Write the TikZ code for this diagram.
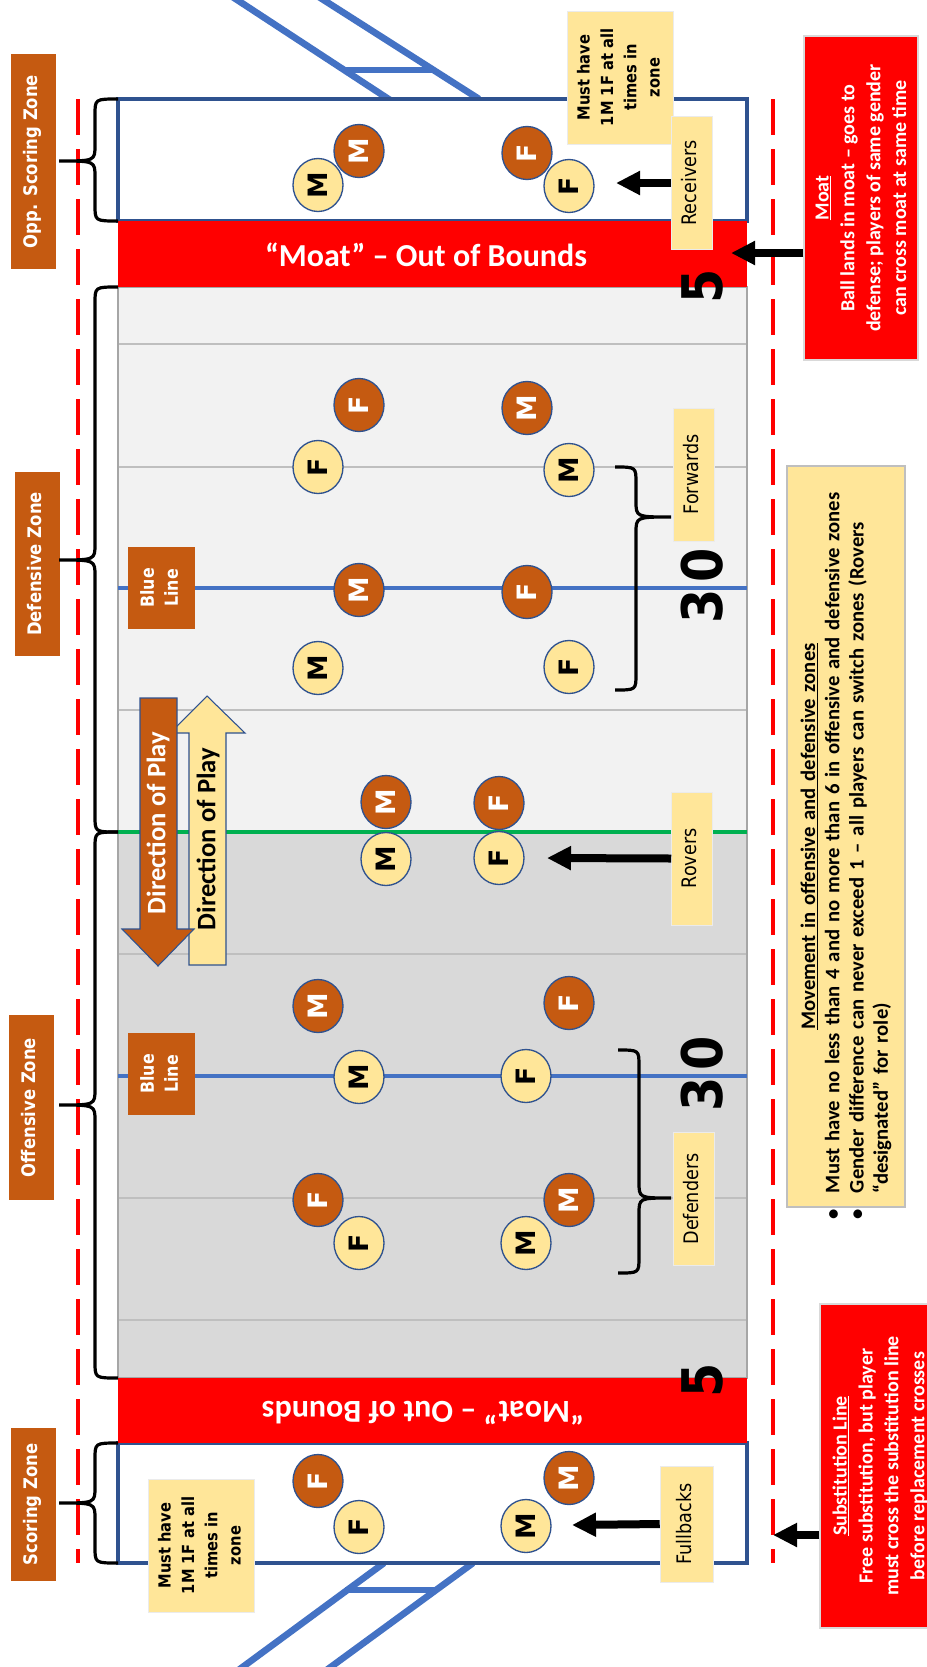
\documentclass[tikz,border=0pt]{standalone}
\usepackage{fontspec}
\usepackage{graphicx}
\setmainfont{Carlito}
\newfontfamily\vfont{DejaVu Sans}
\usetikzlibrary{arrows.meta,shapes.geometric}

\definecolor{fieldlight}{HTML}{F2F2F2}
\definecolor{fielddark}{HTML}{D9D9D9}
\definecolor{gridgrey}{HTML}{BFBFBF}
\definecolor{lineblue}{HTML}{4472C4}
\definecolor{edgeblue}{HTML}{2F528F}
\definecolor{linegreen}{HTML}{00B050}
\definecolor{moatred}{HTML}{FF0000}
\definecolor{rust}{HTML}{C55A11}
\definecolor{pale}{HTML}{FFE699}

\newdimen\pxu
\pxu=0.75pt

% narrow (condensed) text block
\newcommand{\nar}[1]{\scalebox{0.88}[1]{\begin{tabular}{@{}c@{}}#1\end{tabular}}}

% curly brace: end x, body x, tip x, y1, y tip, y2
\newcommand{\zonebrace}[6]{%
  \draw[bracket] (#1,#4) .. controls (#2,#4) .. (#2,{#4+16}) -- (#2,{#5-16})
    .. controls (#2,#5) .. (#3,#5) .. controls (#2,#5) .. (#2,{#5+16})
    -- (#2,{#6-16}) .. controls (#2,#6) .. (#1,#6);}

\begin{document}
\begin{tikzpicture}[x=0.75pt, y=-0.75pt,
    goalpost/.style={draw=lineblue, line width=5pt},
    sideline/.style={draw=moatred, line width=3pt, dash pattern=on 27pt off 10.5pt},
    gridline/.style={draw=gridgrey, line width=1.1pt},
    zoneedge/.style={draw=edgeblue, line width=2.3pt},
    bracket/.style={draw=black, line width=2.4pt},
    bigarrow/.style={line width=6pt, -{Triangle[length=18pt,width=17pt]}},
    zonelabel/.style={fill=rust, text=white, rotate=90, inner sep=0pt, minimum height=45\pxu,
      font=\vfont\bfseries\fontsize{14}{16}\selectfont},
    bluelabel/.style={fill=rust, text=white, rotate=90, inner sep=0pt, minimum width=82\pxu,
      minimum height=67\pxu, font=\vfont\bfseries\fontsize{13.5}{18}\selectfont},
    role/.style={fill=pale, draw=black!8, rotate=90, inner sep=0pt, minimum width=133\pxu,
      minimum height=41\pxu, font=\vfont\fontsize{15}{18}\selectfont},
    mustnote/.style={fill=pale, draw=black!8, rotate=90, inner sep=0pt, minimum width=133\pxu,
      minimum height=106\pxu, font=\vfont\bfseries\fontsize{12.5}{17.5}\selectfont},
    rednote/.style={fill=moatred, draw=black!15, line width=0.8pt, rotate=90, inner sep=0pt,
      minimum width=324\pxu, minimum height=114\pxu, align=center, text=white,
      font=\bfseries\fontsize{15}{19.4}\selectfont},
    movenote/.style={fill=pale, draw=black!25, line width=0.8pt, rotate=90, inner xsep=14\pxu,
      inner ysep=0pt, text width=713\pxu, minimum height=118\pxu,
      font=\bfseries\fontsize{15.5}{18.2}\selectfont},
    bignum/.style={rotate=90, inner sep=0pt, font=\vfont\bfseries\fontsize{42}{42}\selectfont},
    moattext/.style={text=white, inner sep=0pt, font=\bfseries\fontsize{24}{24}\selectfont},
    player/.style={ellipse, draw=edgeblue, line width=1pt, minimum width=53\pxu,
      minimum height=50\pxu, inner sep=0pt, rotate=90,
      font=\vfont\bfseries\fontsize{20}{20}\selectfont},
    lp/.style={player, fill=pale, text=black},
    dp/.style={player, fill=rust, text=white}]

    % Canvas
    \useasboundingbox (0,0) rectangle (927,1667);
    \fill[white] (0,0) rectangle (927,1667);

    % Goal posts
    \draw[goalpost] (222,-10) -- (390,100);
    \draw[goalpost] (308,-10) -- (479,99);
    \draw[goalpost] (345,70) -- (434,70);
    \draw[goalpost] (384,1563) -- (225,1680);
    \draw[goalpost] (473,1563) -- (313,1680);
    \draw[goalpost] (345,1590) -- (434,1590);

    % Field
    \fill[fieldlight] (118,287) rectangle (747,832);
    \fill[fielddark] (118,832) rectangle (747,1378);
    \foreach \y in {344,467,710,954,1198,1320}
        \draw[gridline] (118,\y) -- (747,\y);
    \draw[gray!70, line width=1pt] (118,287) rectangle (747,1378);
    \draw[lineblue, line width=3pt] (118,588) -- (747,588);
    \draw[lineblue, line width=3pt] (118,1076) -- (747,1076);
    \draw[linegreen, line width=3pt] (118,832) -- (747,832);

    % Scoring zones and moats
    \draw[zoneedge, fill=white] (118,99) rectangle (747,221);
    \draw[zoneedge, fill=white] (118,1443) rectangle (747,1563);
    \fill[moatred] (118,221) rectangle (747,287);
    \fill[moatred] (118,1378) rectangle (747,1443);
    \node[moattext] (moatA) at (426,255) {“Moat” – Out of Bounds};
    \node[moattext, rotate=180] (moatB) at (423,1413) {“Moat” – Out of Bounds};

    % Substitution lines
    \draw[sideline] (78,99) -- (78,1563);
    \draw[sideline] (773,99) -- (773,1563);

    % Zone labels and braces
    \node[zonelabel, minimum width=215\pxu] (zOpp) at (33.5,161.5) {\nar{Opp. Scoring Zone}};
    \node[zonelabel, minimum width=184\pxu] (zDef) at (37.5,564) {\nar{Defensive Zone}};
    \node[zonelabel, minimum width=185\pxu] (zOff) at (31.5,1107.5) {\nar{Offensive Zone}};
    \node[zonelabel, minimum width=153\pxu] (zSc) at (33.5,1504.5) {\nar{Scoring Zone}};
    \zonebrace{118}{95}{59}{99}{161}{221}
    \zonebrace{118}{95}{59}{287}{560}{832}
    \zonebrace{118}{95}{59}{832}{1105}{1378}
    \zonebrace{118}{95}{59}{1443}{1503}{1563}

    % Blue line labels
    \node[bluelabel] (blA) at (161,588) {\nar{Blue\\Line}};
    \node[bluelabel] (blB) at (161,1074) {\nar{Blue\\Line}};

    % Direction of play
    \filldraw[fill=pale, draw=edgeblue, line width=0.8pt] (189,965) -- (189,733) -- (170,733)
        -- (207,696) -- (245,733) -- (226,733) -- (226,965) -- cycle;
    \filldraw[fill=rust, draw=edgeblue, line width=0.8pt] (140,698) -- (177,698) -- (177,929)
        -- (194,929) -- (158,966) -- (122,929) -- (140,929) -- cycle;
    \node[rotate=90, text=white, font=\bfseries\fontsize{20}{20}\selectfont] (dirA) at (158,823) {Direction of Play};
    \node[rotate=90, font=\bfseries\fontsize{20}{20}\selectfont] (dirB) at (208,839) {Direction of Play};

    % Yard numbers
    \node[bignum] (n5a) at (710,286) {\nar{5}};
    \node[bignum] (n30a) at (710,586) {\nar{3\hspace{6pt}0}};
    \node[bignum] (n30b) at (710,1074) {\nar{3\hspace{6pt}0}};
    \node[bignum] (n5b) at (710,1380) {\nar{5}};

    % Players
    \node[lp] (r1) at (318,185) {M};
    \node[dp] (r2) at (359,151) {M};
    \node[dp] (r3) at (527,153) {F};
    \node[lp] (r4) at (569,186) {F};

    \node[dp] (f1) at (359,405) {F};
    \node[dp] (f2) at (527,408) {M};
    \node[lp] (f3) at (318,467) {F};
    \node[lp] (f4) at (569,470) {M};
    \node[dp] (f5) at (359,590) {M};
    \node[dp] (f6) at (527,592) {F};
    \node[lp] (f7) at (318,668) {M};
    \node[lp] (f8) at (569,667) {F};

    \node[dp] (v1) at (386,802) {M};
    \node[dp] (v2) at (499,803) {F};
    \node[lp] (v3) at (386,859) {M};
    \node[lp] (v4) at (499,858) {F};

    \node[dp] (d1) at (318,1006) {M};
    \node[dp] (d2) at (569,1003) {F};
    \node[lp] (d3) at (359,1077) {M};
    \node[lp] (d4) at (526,1076) {F};
    \node[dp] (d5) at (318,1200) {F};
    \node[dp] (d6) at (569,1200) {M};
    \node[lp] (d7) at (359,1243) {F};
    \node[lp] (d8) at (526,1243) {M};

    \node[dp] (b1) at (318,1481) {F};
    \node[dp] (b2) at (569,1478) {M};
    \node[lp] (b3) at (359,1527) {F};
    \node[lp] (b4) at (526,1526) {M};

    % Role labels
    \node[mustnote] (mustA) at (620,77.5) {\nar{Must have\\1M 1F at all\\times in\\zone}};
    \node[mustnote] (mustB) at (201,1545.5) {\nar{Must have\\1M 1F at all\\times in\\zone}};
    \node[role] (recv) at (691.5,183) {\nar{Receivers}};
    \node[role] (fwd) at (693.5,474.5) {\nar{Forwards}};
    \node[role] (rov) at (692,858.5) {\nar{Rovers}};
    \node[role] (dfn) at (693.5,1199) {\nar{Defenders}};
    \node[role, minimum width=116\pxu, minimum height=53\pxu] (fbk) at (686.5,1524) {\nar{Fullbacks}};
    \zonebrace{615}{636}{671}{467}{517}{690}
    \zonebrace{618}{639}{671}{1050}{1198}{1273}

    % Notes
    \node[rednote] (mnote) at (861,198)
        {\underline{Moat}\\Ball lands in moat – goes to\\defense; players of same gender\\can cross moat at same time};
    \node[rednote, minimum height=120\pxu] (snote) at (880,1466)
        {\underline{Substitution Line}\\Free substitution, but player\\must cross the substitution line\\before replacement crosses};
    \node[movenote] (rules) at (846,836.5) {\parindent=0pt\parskip=0pt\raggedright
        {\centering\underline{Movement in offensive and defensive zones}\par}
        \leavevmode\llap{\textbullet\hspace{12pt}}Must have no less than 4 and no more than 6 in offensive and defensive zones\par
        \leavevmode\llap{\textbullet\hspace{12pt}}Gender difference can never exceed 1 – all players can switch zones (Rovers\newline
        “designated” for role)\par};

    % Arrows
    \coordinate (rtip) at (616,183);
    \coordinate (vtip) at (547,858);
    \coordinate (btip) at (572,1525);
    \coordinate (mtip) at (731,253);
    \coordinate (stip) at (773,1535);
    \draw[bigarrow] (recv.north) -- (rtip);
    \draw[bigarrow] (rov.north) -- (vtip);
    \draw[bigarrow] (fbk.north) -- (btip);
    \draw[bigarrow] (mnote.north |- mtip) -- (mtip);
    \draw[bigarrow] (snote.north |- stip) -- (stip);
\end{tikzpicture}
\end{document}
